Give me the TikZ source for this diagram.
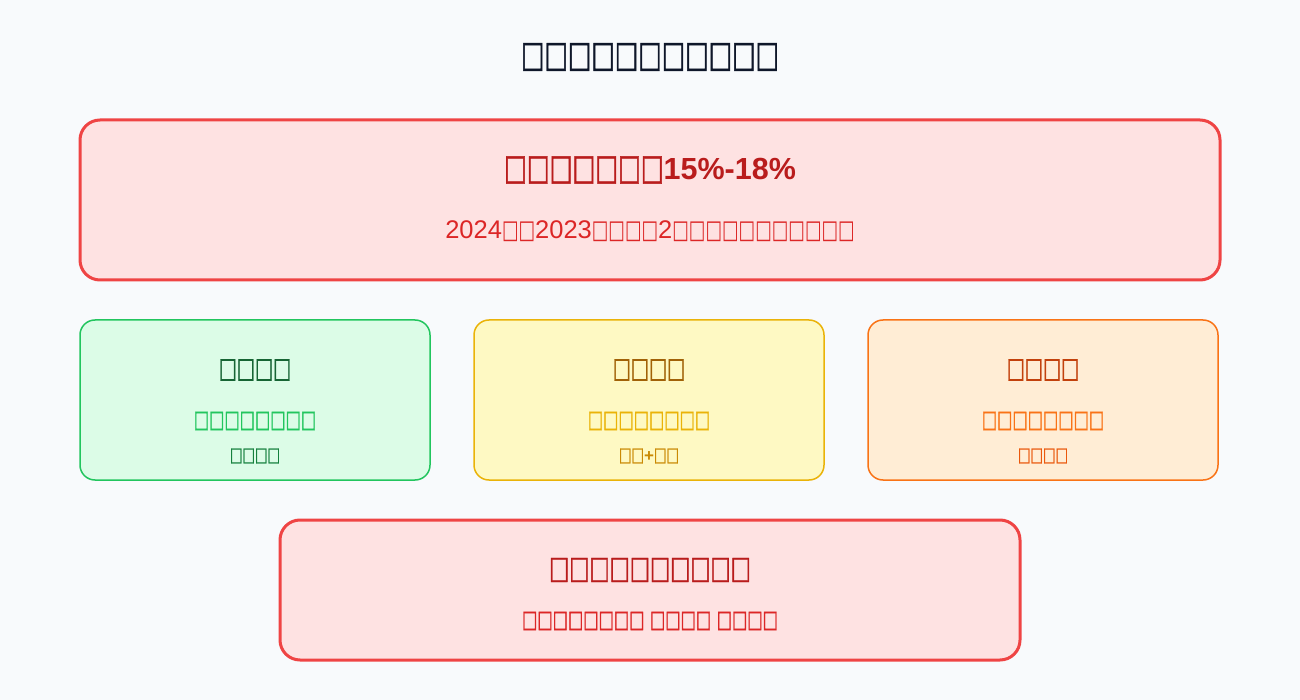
\documentclass[tikz,border=0pt]{standalone}
\usepackage{fontspec}
\setmainfont{Liberation Sans}
\newfontfamily\dv[FakeStretch=0.68, BoldFeatures={FakeBold=1.2}]{DejaVu Sans}
\def\tfw{20}
\newcommand\tf{{\fontsize{\tfw}{\tfw}\dv □}}
\definecolor{bg}{HTML}{F8FAFC}
\definecolor{ink}{HTML}{0F172A}
\definecolor{redS}{HTML}{EF4444}
\definecolor{redF}{HTML}{FEE2E2}
\definecolor{redD}{HTML}{B91C1C}
\definecolor{redM}{HTML}{DC2626}
\definecolor{grnS}{HTML}{22C55E}
\definecolor{grnF}{HTML}{DCFCE7}
\definecolor{grnD}{HTML}{166534}
\definecolor{grnM}{HTML}{15803D}
\definecolor{ylwS}{HTML}{EAB308}
\definecolor{ylwF}{HTML}{FEF9C3}
\definecolor{ylwD}{HTML}{A16207}
\definecolor{ylwM}{HTML}{CA8A04}
\definecolor{orgS}{HTML}{F97316}
\definecolor{orgF}{HTML}{FFEDD5}
\definecolor{orgD}{HTML}{C2410C}
\definecolor{orgM}{HTML}{EA580C}
\tikzset{
  bigbox/.style={draw=redS, fill=redF, line width=3pt, rounded corners=20pt, minimum height=160pt},
  card/.style={draw=#1S, fill=#1F, line width=1.5pt, rounded corners=15pt, minimum width=350pt, minimum height=160pt},
  fs/.style 2 args={font=\fontsize{#1}{#1}\selectfont\def\tfw{#2}},
  fsb/.style 2 args={font=\fontsize{#1}{#1}\selectfont\bfseries\def\tfw{#2}},
}
\begin{document}
\begin{tikzpicture}[x=1pt,y=-1pt]
\useasboundingbox[fill=bg] (0,0) rectangle (1300,700);
\node[fsb={32}{36.5}, text=ink] (title) at (650,57) {\tf\tf\tf\tf\tf\tf\tf\tf\tf\tf\tf};

\node[bigbox, minimum width=1140pt] (top) at (650,200) {};
\node[fsb={30.5}{35.5}, text=redD] (toph) at (650,170) {\tf\tf\tf\tf\tf\tf\tf15\%-18\%};
\node[fs={25.5}{25.8}, text=redM] (tops) at (650,231) {2024\tf\tf2023\tf\tf\tf\tf2\tf\tf\tf\tf\tf\tf\tf\tf\tf\tf\tf};

\node[card=grn] (c1) at (255,400) {};
\node[fsb={23}{28.2}, text=grnD] (c1h) at (255,370) {\tf\tf\tf\tf};
\node[fsb={20}{23.8}, text=grnS] (c1m) at (255,421) {\tf\tf\tf\tf\tf\tf\tf\tf};
\node[fsb={16}{19.5}, text=grnM] (c1s) at (255,456) {\tf\tf\tf\tf};

\node[card=ylw] (c2) at (649,400) {};
\node[fsb={23}{28.2}, text=ylwD] (c2h) at (649,370) {\tf\tf\tf\tf};
\node[fsb={20}{23.8}, text=ylwS] (c2m) at (649,421) {\tf\tf\tf\tf\tf\tf\tf\tf};
\node[fsb={17}{19.5}, text=ylwM] (c2s) at (649,456) {\tf\tf+\tf\tf};

\node[card=org] (c3) at (1043,400) {};
\node[fsb={23}{28.2}, text=orgD] (c3h) at (1043,370) {\tf\tf\tf\tf};
\node[fsb={20}{23.8}, text=orgS] (c3m) at (1043,421) {\tf\tf\tf\tf\tf\tf\tf\tf};
\node[fsb={16}{19.5}, text=orgM] (c3s) at (1043,456) {\tf\tf\tf\tf};

\node[bigbox, minimum width=740pt, minimum height=140pt] (bot) at (650,590) {};
\node[fsb={26}{31.4}, text=redD] (both) at (650,570) {\tf\tf\tf\tf\tf\tf\tf\tf\tf\tf};
\node[fsb={20}{23.8}, text=redM] (bots) at (650,621) {\tf\tf\tf\tf\tf\tf\tf\tf{} \tf\tf\tf\tf{} \tf\tf\tf\tf};
\end{tikzpicture}
\end{document}
